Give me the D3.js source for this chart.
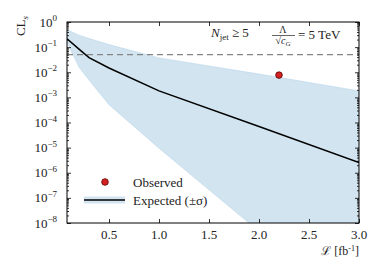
<!DOCTYPE html>
<html><head><meta charset="utf-8">
<script src="https://cdn.jsdelivr.net/npm/d3@7"></script>
<style>
body{margin:0;background:#fff;}
text{font-family:"Liberation Serif","DejaVu Serif",serif;fill:#222;}
</style></head>
<body><svg id="c" width="382" height="278"></svg>
<script>
// data
const lumi = [0.08, 0.2, 0.3, 0.5, 1.0, 2.0, 3.0];
const expected = [0.216, 0.083, 0.038, 0.0148, 0.00182, 6.9e-5, 2.57e-6];
const upperBand = [0.49, 0.30, 0.22, 0.126, 0.037, 0.0085, 0.0018];
const lowerBand = [0.16, 0.016, 0.0049, 5.1e-4, 9.5e-6, 4.7e-9, 2.5e-12];
const observedX = [2.2];
const observedY = [0.0077];
const thresholdCL = [0.05];
const xTicks = [0.5, 1.0, 1.5, 2.0, 2.5, 3.0];
const yExponents = [0, -1, -2, -3, -4, -5, -6, -7, -8];
const legendLabels = ["Observed", "Expected (±σ)"];

const W = 382, H = 278;
const m = {l:67, r:23, t:22, b:55};
const svg = d3.select("#c");
const x = d3.scaleLinear().domain([0.08, 3.0]).range([m.l, W - m.r]);
const y = d3.scaleLog().domain([1e-8, 1]).range([H - m.b, m.t]);
const bandColor = "#d2e4f0";

svg.append("defs").append("clipPath").attr("id","clip")
  .append("rect").attr("x", m.l).attr("y", m.t)
  .attr("width", W - m.l - m.r).attr("height", H - m.t - m.b);

const g = svg.append("g").attr("clip-path","url(#clip)");
const idx = d3.range(lumi.length);
g.append("path").datum(idx)
  .attr("d", d3.area().x(i => x(lumi[i])).y0(i => y(lowerBand[i])).y1(i => y(upperBand[i])))
  .attr("fill", bandColor).attr("stroke","#b9d5ea").attr("stroke-width",0.6);
g.append("line").attr("x1", m.l).attr("x2", W - m.r)
  .attr("y1", y(thresholdCL[0])).attr("y2", y(thresholdCL[0]))
  .attr("stroke","#858585").attr("stroke-width",1.2).attr("stroke-dasharray","6,4");
g.append("path").datum(idx)
  .attr("d", d3.line().x(i => x(lumi[i])).y(i => y(expected[i])))
  .attr("fill","none").attr("stroke","#000").attr("stroke-width",1.5);
g.selectAll("circle.obs").data(observedX).enter().append("circle")
  .attr("cx", (d,i) => x(d)).attr("cy", (d,i) => y(observedY[i])).attr("r", 3.3)
  .attr("fill","#d42020").attr("stroke","#5a0000").attr("stroke-width",0.8);

// axes
const majorY = yExponents.map(e => Math.pow(10, e));
const minorY = [];
for (let e = -8; e < 0; e++) for (let k = 2; k <= 9; k++) minorY.push(k * Math.pow(10, e));

function styleAxis(sel){ sel.select(".domain").remove(); sel.selectAll("line").attr("stroke","#000").attr("stroke-width",0.8); }

svg.append("g").attr("transform",`translate(${m.l},0)`)
  .call(d3.axisLeft(y).tickValues(majorY).tickSize(-4).tickFormat(""))
  .call(styleAxis);
svg.append("g").attr("transform",`translate(${m.l},0)`)
  .call(d3.axisLeft(y).tickValues(minorY).tickSize(-2).tickFormat(""))
  .call(styleAxis);
svg.append("g").attr("transform",`translate(${W-m.r},0)`)
  .call(d3.axisRight(y).tickValues(majorY).tickSize(-4).tickFormat(""))
  .call(styleAxis);
svg.append("g").attr("transform",`translate(${W-m.r},0)`)
  .call(d3.axisRight(y).tickValues(minorY).tickSize(-2).tickFormat(""))
  .call(styleAxis);
svg.append("g").attr("transform",`translate(0,${H-m.b})`)
  .call(d3.axisBottom(x).tickValues(xTicks).tickSize(-4).tickFormat(""))
  .call(styleAxis);
svg.append("g").attr("transform",`translate(0,${m.t})`)
  .call(d3.axisTop(x).tickValues(xTicks).tickSize(-4).tickFormat(""))
  .call(styleAxis);

// tick labels
svg.append("g").selectAll("text").data(xTicks).enter().append("text")
  .attr("x", d => x(d)).attr("y", 239).attr("text-anchor","middle")
  .attr("font-size", 13).text(d => d.toFixed(1));
const yl = svg.append("g").selectAll("text").data(yExponents).enter().append("text")
  .attr("x", 57).attr("y", d => y(Math.pow(10,d)) + 4.5).attr("text-anchor","end")
  .attr("font-size", 13);
yl.append("tspan").text("10");
yl.append("tspan").attr("dy", -5.5).attr("font-size", 9).text(d => d === 0 ? "0" : "−" + (-d));

// frame
svg.append("rect").attr("x", m.l).attr("y", m.t).attr("width", W-m.l-m.r).attr("height", H-m.t-m.b)
  .attr("fill","none").attr("stroke","#000").attr("stroke-width",1);

// axis titles
const ylab = svg.append("text").attr("transform","translate(25,26) rotate(-90)")
  .attr("text-anchor","middle").attr("font-size",13);
ylab.append("tspan").text("CL");
ylab.append("tspan").attr("dy",3).attr("font-size",9).attr("font-style","italic").text("s");
const xlab = svg.append("text").attr("x", 359).attr("y", 255).attr("text-anchor","end").attr("font-size",12);
xlab.append("tspan").text("ℒ");
xlab.append("tspan").text(" [fb");
xlab.append("tspan").attr("dy",-4).attr("font-size",8).text("-1");
xlab.append("tspan").attr("dy",4).text("]");

// annotation
const ann = svg.append("text").attr("x", 211).attr("y", 37).attr("font-size", 13);
ann.append("tspan").attr("font-style","italic").text("N");
ann.append("tspan").attr("dy",3).attr("font-size",9).text("jet");
ann.append("tspan").attr("dy",-3).text(" ≥ 5");
svg.append("text").attr("x", 283).attr("y", 33).attr("text-anchor","middle").attr("font-size",10).text("Λ");
svg.append("line").attr("x1",272).attr("x2",295).attr("y1",35.5).attr("y2",35.5).attr("stroke","#222").attr("stroke-width",0.7);
const den = svg.append("text").attr("x", 283).attr("y", 44).attr("text-anchor","middle").attr("font-size",10);
den.append("tspan").text("√");
den.append("tspan").attr("font-style","italic").text("c");
den.append("tspan").attr("dy",2).attr("font-size",7).attr("font-style","italic").text("G");
svg.append("text").attr("x", 298).attr("y", 39).attr("font-size", 13).text("= 5 TeV");

// legend
svg.append("circle").attr("cx",105).attr("cy",182).attr("r",3.3)
  .attr("fill","#d42020").attr("stroke","#5a0000").attr("stroke-width",0.8);
svg.append("rect").attr("x",84).attr("y",196.5).attr("width",41).attr("height",7).attr("fill",bandColor);
svg.append("line").attr("x1",84).attr("x2",125).attr("y1",200).attr("y2",200).attr("stroke","#000").attr("stroke-width",1.5);
svg.append("g").selectAll("text").data(legendLabels).enter().append("text")
  .attr("x",133).attr("y",(d,i)=>186.5 + i*18).attr("font-size",13).text(d=>d);
</script></body></html>
